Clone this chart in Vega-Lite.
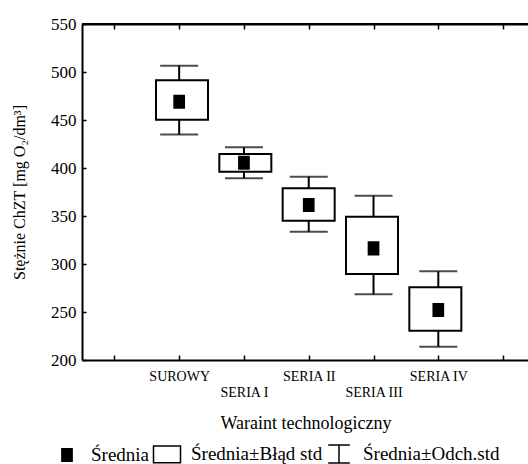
{
  "$schema": "https://vega.github.io/schema/vega-lite/v6.json",
  "autosize": "none",
  "width": 447,
  "height": 336,
  "padding": {"left": 82, "top": 24, "right": 0, "bottom": 104},
  "background": "white",
  "config": {
    "view": {"stroke": null},
    "font": "Liberation Serif",
    "axis": {
      "grid": false,
      "domainColor": "black",
      "domainWidth": 2,
      "tickColor": "black",
      "tickWidth": 1.5,
      "labelColor": "black",
      "titleColor": "black",
      "labelFont": "Liberation Serif",
      "titleFont": "Liberation Serif",
      "titleFontWeight": "normal"
    },
    "legend": {"labelFont": "Liberation Serif"}
  },
  "data": {
    "values": [
      {"pos": 1, "wariant": "SUROWY", "stat": "Średnia", "mean": 469, "se_lo": 450.3, "se_hi": 491.4, "sd_lo": 435, "sd_hi": 506.6},
      {"pos": 2, "wariant": "SERIA I", "stat": "Średnia", "mean": 405.5, "se_lo": 396.2, "se_hi": 414.6, "sd_lo": 389.2, "sd_hi": 421.5},
      {"pos": 3, "wariant": "SERIA II", "stat": "Średnia", "mean": 361.5, "se_lo": 345.1, "se_hi": 378.8, "sd_lo": 333.7, "sd_hi": 391},
      {"pos": 4, "wariant": "SERIA III", "stat": "Średnia", "mean": 316.3, "se_lo": 289.6, "se_hi": 349.3, "sd_lo": 268.4, "sd_hi": 371.2},
      {"pos": 5, "wariant": "SERIA IV", "stat": "Średnia", "mean": 252.1, "se_lo": 230.5, "se_hi": 275.7, "sd_lo": 213.9, "sd_hi": 292.4}
    ]
  },
  "resolve": {"scale": {"x": "independent"}, "axis": {"x": "independent", "y": "independent"}},
  "layer": [
    {
      "mark": {"type": "rule", "color": "black", "strokeWidth": 2},
      "encoding": {
        "x": {
          "field": "pos", "type": "quantitative",
          "scale": {"domain": [-0.5, 6.4], "nice": false, "zero": false},
          "axis": {
            "orient": "bottom",
            "values": [0, 1, 2, 3, 4, 5, 6],
            "tickSize": -5,
            "labelFont": "Liberation Serif",
            "labelFontSize": 14,
            "labelPadding": 14,
            "labelLineHeight": 16,
            "labelFlush": false,
            "labelOverlap": false,
            "labelExpr": "datum.value == 1 ? 'SUROWY' : datum.value == 2 ? ['', 'SERIA I'] : datum.value == 3 ? 'SERIA II' : datum.value == 4 ? ['', 'SERIA III'] : datum.value == 5 ? 'SERIA IV' : ''",
            "title": "Waraint technologiczny",
            "titleFont": "Liberation Serif",
            "titleFontSize": 18,
            "titlePadding": 15
          }
        },
        "y": {
          "field": "sd_lo", "type": "quantitative",
          "scale": {"domain": [200, 550], "nice": false, "zero": false},
          "axis": {
            "orient": "left",
            "values": [200, 250, 300, 350, 400, 450, 500, 550],
            "tickSize": -4,
            "labelFont": "Liberation Serif",
            "labelFontSize": 17,
            "labelPadding": 10,
            "title": "Stężnie ChZT [mg O₂/dm³]",
            "titleFont": "Liberation Serif",
            "titleFontSize": 16,
            "titlePadding": 23
          }
        },
        "y2": {"field": "sd_hi"}
      }
    },
    {
      "mark": {"type": "tick", "orient": "horizontal", "color": "black", "thickness": 2, "size": 38},
      "encoding": {
        "x": {
          "field": "pos", "type": "quantitative",
          "scale": {"domain": [-0.5, 6.4], "nice": false, "zero": false},
          "axis": {
            "orient": "top",
            "values": [0, 1, 2, 3, 4, 5, 6],
            "domainColor": "black",
            "domainWidth": 2,
            "tickColor": "black",
            "tickWidth": 1.5,
            "tickSize": -5,
            "labelExpr": "''",
            "title": null
          }
        },
        "y": {"field": "sd_hi", "type": "quantitative", "axis": null}
      }
    },
    {
      "mark": {"type": "tick", "orient": "horizontal", "color": "black", "thickness": 2, "size": 38},
      "encoding": {
        "x": {"field": "pos", "type": "quantitative", "scale": {"domain": [-0.5, 6.4], "nice": false, "zero": false}, "axis": null},
        "y": {"field": "sd_lo", "type": "quantitative", "axis": null}
      }
    },
    {
      "mark": {"type": "rule", "color": "black", "strokeWidth": 2},
      "encoding": {
        "y": {"datum": 550, "type": "quantitative", "axis": null}
      }
    },
    {
      "mark": {"type": "bar", "width": 52, "fill": "white", "stroke": "black", "strokeWidth": 2},
      "encoding": {
        "x": {"field": "pos", "type": "quantitative", "scale": {"domain": [-0.5, 6.4], "nice": false, "zero": false}, "axis": null},
        "y": {"field": "se_lo", "type": "quantitative", "axis": null},
        "y2": {"field": "se_hi"}
      }
    },
    {
      "mark": {"type": "point", "filled": true, "opacity": 1, "size": 900, "strokeWidth": 1.5},
      "encoding": {
        "x": {"field": "pos", "type": "quantitative", "scale": {"domain": [-0.5, 6.4], "nice": false, "zero": false}, "axis": null},
        "y": {"field": "mean", "type": "quantitative", "axis": null},
        "shape": {
          "field": "stat", "type": "nominal",
          "scale": {
            "domain": ["Średnia", "Średnia±Błąd std", "Średnia±Odch.std"],
            "range": [
              "M-0.34,-0.42H0.34V0.42H-0.34Z",
              "M-0.9,-0.56H0.9V0.56H-0.9Z",
              "M-0.72,-0.6H0.72M0,-0.6V0.6M-0.72,0.6H0.72"
            ]
          },
          "legend": {
            "orient": "none",
            "legendX": -31,
            "legendY": 414,
            "direction": "horizontal",
            "title": null,
            "symbolSize": 900,
            "symbolStrokeWidth": 1.5,
            "labelFont": "Liberation Serif",
            "labelFontSize": 19,
            "labelColor": "black",
            "labelOffset": 8,
            "columnPadding": 0,
            "labelLimit": 300
          }
        },
        "fill": {
          "field": "stat", "type": "nominal",
          "scale": {
            "domain": ["Średnia", "Średnia±Błąd std", "Średnia±Odch.std"],
            "range": ["black", "white", "white"]
          },
          "legend": {
            "orient": "none",
            "legendX": -31,
            "legendY": 414,
            "direction": "horizontal",
            "title": null,
            "symbolSize": 900,
            "symbolStrokeWidth": 1.5,
            "labelFont": "Liberation Serif",
            "labelFontSize": 19,
            "labelColor": "black",
            "labelOffset": 8,
            "columnPadding": 0,
            "labelLimit": 300
          }
        },
        "stroke": {
          "field": "stat", "type": "nominal",
          "scale": {
            "domain": ["Średnia", "Średnia±Błąd std", "Średnia±Odch.std"],
            "range": ["black", "black", "black"]
          },
          "legend": {
            "orient": "none",
            "legendX": -31,
            "legendY": 414,
            "direction": "horizontal",
            "title": null,
            "symbolSize": 900,
            "symbolStrokeWidth": 1.5,
            "labelFont": "Liberation Serif",
            "labelFontSize": 19,
            "labelColor": "black",
            "labelOffset": 8,
            "columnPadding": 0,
            "labelLimit": 300
          }
        }
      }
    }
  ]
}
